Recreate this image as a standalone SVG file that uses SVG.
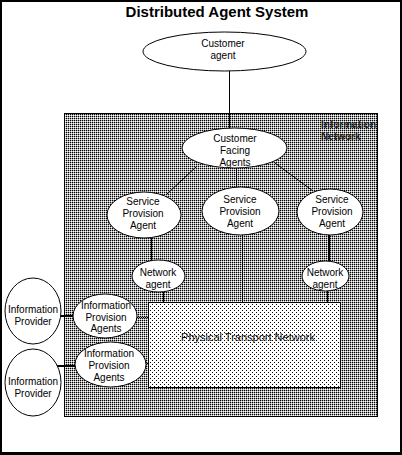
<svg xmlns="http://www.w3.org/2000/svg" width="402" height="455" viewBox="0 0 402 455">
<defs>
<style>
text{font-family:"Liberation Sans",Arial,sans-serif;font-size:10px;fill:#000;text-anchor:middle}
.title{font-size:15px;font-weight:bold}
.node ellipse{fill:#fff;stroke:#000;stroke-width:1}
.con line{stroke:#000;stroke-width:1;fill:none}
.con .thick{stroke-width:2}
.con .dot{stroke-dasharray:1 1}
</style>
<pattern id="netpat" width="2" height="2" patternUnits="userSpaceOnUse"><rect width="2" height="2" fill="#fff"/><rect width="1" height="1" fill="#000"/><rect x="1" y="0" width="1" height="1" fill="#aaa"/><rect x="0" y="1" width="1" height="1" fill="#aaa"/></pattern>
<pattern id="ptnpat" width="4" height="4" patternUnits="userSpaceOnUse"><rect width="4" height="4" fill="#fff"/><rect width="1" height="1" fill="#000"/><rect x="2" y="2" width="1" height="1" fill="#000"/></pattern>
<clipPath id="netclip"><rect x="64" y="113" width="313.5" height="304"/></clipPath>
</defs>
<rect width="402" height="455" fill="#fff"/>
<path d="M0 0H402V455H0Z M2 2V452H400V2Z" fill="#000" fill-rule="evenodd"/>
<text class="title" x="217" y="17">Distributed Agent System</text>

<g id="information-network">
<rect x="64.5" y="113.5" width="313" height="303" fill="url(#netpat)" stroke="#000" stroke-width="1"/>
<text x="321" y="128" clip-path="url(#netclip)" style="text-anchor:start;font-weight:bold;fill:#222">Information<tspan x="321" y="140">Network</tspan></text>
</g>

<g id="physical-transport-network">
<rect x="148.5" y="302.5" width="192" height="85" fill="url(#ptnpat)" stroke="#000" stroke-width="1"/>
<text x="248" y="341" style="font-size:11px;fill:#111">Physical Transport Network</text>
</g>

<g id="connectors" class="con">
<line x1="229.5" y1="71" x2="229.5" y2="129"/>
<line x1="197" y1="166" x2="167" y2="194"/>
<line x1="236.5" y1="168" x2="236.5" y2="188"/>
<line x1="275" y1="163" x2="313" y2="191"/>
<line x1="151.5" y1="238" x2="151.5" y2="261"/>
<line x1="242.5" y1="235" x2="242.5" y2="302"/>
<line class="thick" x1="329" y1="235" x2="329" y2="262"/>
<line x1="163.5" y1="292" x2="163.5" y2="302"/>
<line x1="327.5" y1="291" x2="327.5" y2="302"/>
<line class="thick" x1="61" y1="316" x2="74" y2="316"/>
<line class="thick" x1="57" y1="366" x2="76" y2="366"/>
<line class="dot" x1="137" y1="317.5" x2="148" y2="317.5"/>
<line class="dot" x1="145" y1="363.5" x2="148" y2="363.5"/>
</g>

<g id="customer-agent" class="node">
<ellipse cx="224.5" cy="51.5" rx="81.5" ry="19.5"/>
<text x="223" y="47">Customer<tspan x="223" y="59">agent</tspan></text>
</g>

<g id="customer-facing-agents" class="node">
<ellipse cx="234.5" cy="148" rx="52.5" ry="20"/>
<text x="235" y="141.5">Customer<tspan x="235" y="153.5">Facing</tspan><tspan x="235" y="165.5">Agents</tspan></text>
</g>

<g id="service-provision-agent-1" class="node">
<ellipse cx="144" cy="215" rx="37" ry="23"/>
<text x="143" y="204.5">Service<tspan x="143" y="216.5">Provision</tspan><tspan x="143" y="228.5">Agent</tspan></text>
</g>

<g id="service-provision-agent-2" class="node">
<ellipse cx="240.5" cy="211" rx="38.5" ry="24"/>
<text x="240" y="202.5">Service<tspan x="240" y="214.5">Provision</tspan><tspan x="240" y="226.5">Agent</tspan></text>
</g>

<g id="service-provision-agent-3" class="node">
<ellipse cx="330" cy="212" rx="33" ry="23"/>
<text x="332" y="202.5">Service<tspan x="332" y="214.5">Provision</tspan><tspan x="332" y="226.5">Agent</tspan></text>
</g>

<g id="network-agent-1" class="node">
<ellipse cx="158.5" cy="276" rx="26.5" ry="16"/>
<text x="158" y="275.5">Network<tspan x="158" y="287.5">agent</tspan></text>
</g>

<g id="network-agent-2" class="node">
<ellipse cx="325.5" cy="276" rx="23.5" ry="15"/>
<text x="325" y="275.5">Network<tspan x="325" y="287.5">agent</tspan></text>
</g>

<g id="information-provider-1" class="node">
<ellipse cx="33" cy="311" rx="28" ry="33"/>
<text x="33" y="312.5">Information<tspan x="33" y="324.5">Provider</tspan></text>
</g>

<g id="information-provider-2" class="node">
<ellipse cx="33" cy="382.5" rx="28" ry="33.5"/>
<text x="33" y="384.5">Information<tspan x="33" y="396.5">Provider</tspan></text>
</g>

<g id="information-provision-agents-1" class="node">
<ellipse cx="105" cy="316" rx="32" ry="22"/>
<text x="106" y="308.5">Information<tspan x="106" y="320.5">Provision</tspan><tspan x="106" y="332">Agents</tspan></text>
</g>

<g id="information-provision-agents-2" class="node">
<ellipse cx="110.5" cy="364.5" rx="35.5" ry="22.5"/>
<text x="109" y="356.5">Information<tspan x="109" y="368.5">Provision</tspan><tspan x="109" y="380.5">Agents</tspan></text>
</g>
</svg>
